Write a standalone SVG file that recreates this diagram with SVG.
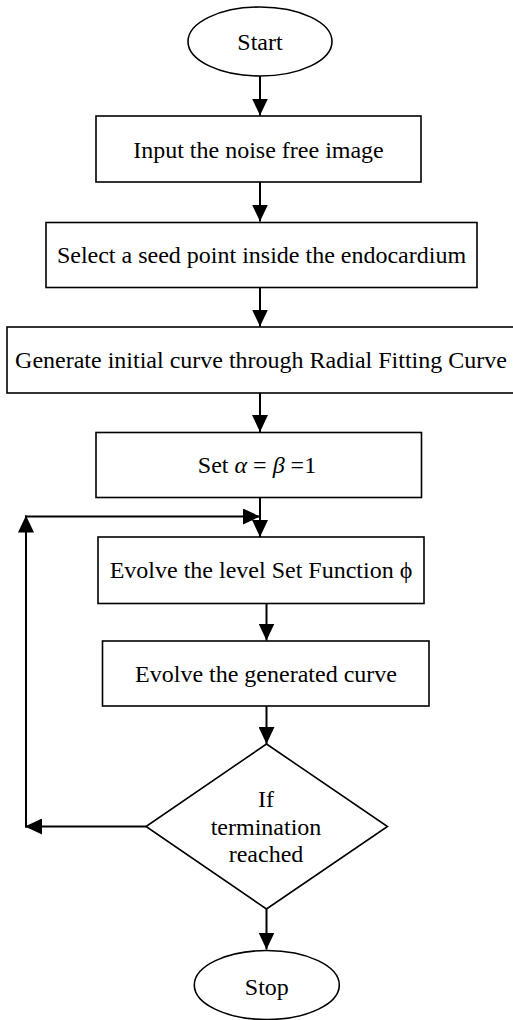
<svg xmlns="http://www.w3.org/2000/svg" width="513" height="1020" viewBox="0 0 513 1020">
<style>
.n{fill:#fff;stroke:#000;stroke-width:1.6}
.t{font-family:"Liberation Serif","Times New Roman",serif;font-size:24px;fill:#000;text-anchor:middle}
.c{fill:none;stroke:#000;stroke-width:2}
</style>
<defs>
<marker id="ah" markerUnits="userSpaceOnUse" markerWidth="17" markerHeight="16" refX="17" refY="8" orient="auto">
<path d="M0,0 L17,8 L0,16 z" fill="#000"/>
</marker>
</defs>
<rect width="513" height="1020" fill="#fff"/>
<g id="connectors">
<line class="c" x1="260" y1="76" x2="260" y2="115.5" marker-end="url(#ah)"/>
<line class="c" x1="260" y1="182" x2="260" y2="221.5" marker-end="url(#ah)"/>
<line class="c" x1="260" y1="288" x2="260" y2="326.5" marker-end="url(#ah)"/>
<line class="c" x1="260" y1="393" x2="260" y2="432" marker-end="url(#ah)"/>
<line class="c" x1="260" y1="498" x2="260" y2="537" marker-end="url(#ah)"/>
<line class="c" x1="266.5" y1="603.5" x2="266.5" y2="640.5" marker-end="url(#ah)"/>
<line class="c" x1="266.5" y1="706" x2="266.5" y2="744" marker-end="url(#ah)"/>
<line class="c" x1="266.5" y1="909" x2="266.5" y2="949.5" marker-end="url(#ah)"/>
<line class="c" x1="146" y1="826.5" x2="25" y2="826.5" marker-end="url(#ah)"/>
<line class="c" x1="26" y1="827.5" x2="26" y2="515.5" marker-end="url(#ah)"/>
<line class="c" x1="25" y1="516.5" x2="260" y2="516.5" marker-end="url(#ah)"/>
</g>
<g id="start">
<ellipse class="n" cx="260" cy="41.5" rx="72" ry="34.5"/>
<text class="t" x="260" y="50">Start</text>
</g>
<g id="input">
<rect class="n" x="96" y="116" width="325" height="66"/>
<text class="t" x="258.5" y="158">Input the noise free image</text>
</g>
<g id="select">
<rect class="n" x="46" y="222.5" width="431" height="65"/>
<text class="t" x="261.5" y="263">Select a seed point inside the endocardium</text>
</g>
<g id="generate">
<rect class="n" x="7" y="327" width="508" height="66"/>
<text class="t" x="261" y="368">Generate initial curve through Radial Fitting Curve</text>
</g>
<g id="setab">
<rect class="n" x="96" y="432.5" width="325.5" height="65"/>
<text class="t" x="257" y="473">Set <tspan font-style="italic">α</tspan> = <tspan font-style="italic">β</tspan> =1</text>
</g>
<g id="evolve-phi">
<rect class="n" x="98" y="537" width="326" height="66.5"/>
<text class="t" x="261" y="578">Evolve the level Set Function ϕ</text>
</g>
<g id="evolve-curve">
<rect class="n" x="102.5" y="641" width="326.5" height="65"/>
<text class="t" x="266" y="682">Evolve the generated curve</text>
</g>
<g id="decision">
<polygon class="n" points="266.5,744 387.5,826.5 266.5,909 146,826.5"/>
<text class="t" x="266" y="807">If</text>
<text class="t" x="266" y="835">termination</text>
<text class="t" x="266" y="862">reached</text>
</g>
<g id="stop">
<ellipse class="n" cx="266.8" cy="985" rx="72.5" ry="34.5"/>
<text class="t" x="266.8" y="995">Stop</text>
</g>
</svg>
